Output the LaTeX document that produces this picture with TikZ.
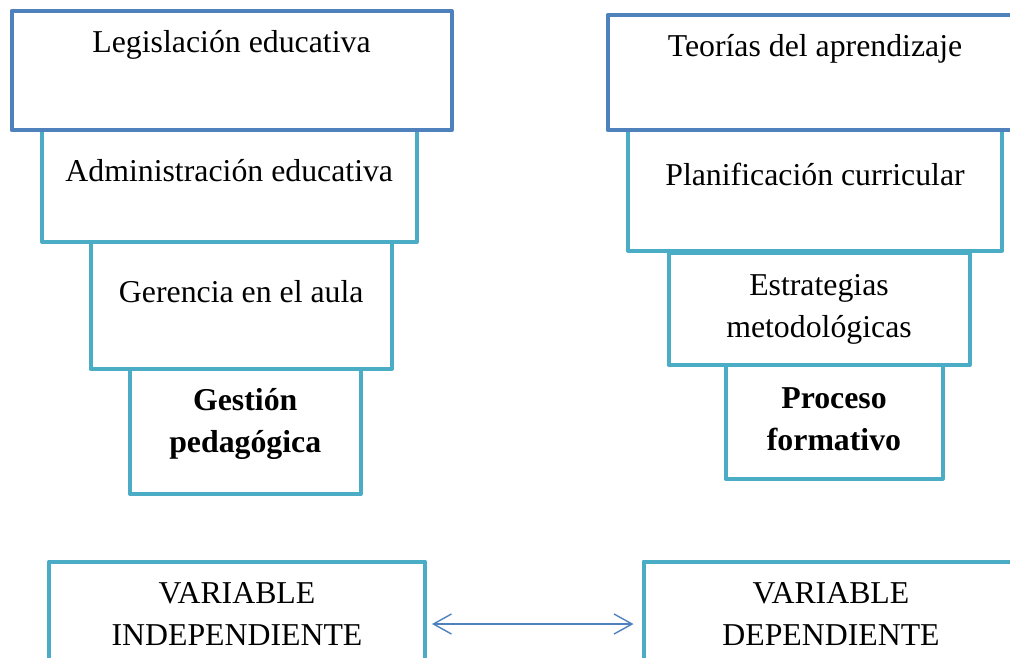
\documentclass[tikz,border=0pt]{standalone}
\usepackage{fontspec}
\setmainfont{Liberation Serif}
\usetikzlibrary{positioning,arrows.meta}
\definecolor{boxblue}{RGB}{79,129,189}
\definecolor{boxteal}{RGB}{75,172,198}

\begin{document}
\begin{tikzpicture}[x=1pt, y=-1pt]
    \tikzset{
        topbox/.style={rectangle, draw=boxblue, line width=4pt, fill=white, inner sep=0pt, outer sep=0pt, line join=round},
        stepbox/.style={rectangle, draw=boxteal, line width=4pt, fill=white, inner sep=0pt, outer sep=0pt, line join=round},
        boxtext/.style={anchor=base, inner sep=0pt, align=center, font=\fontsize{31.8}{42}\selectfont},
        link/.style={{Straight Barb[length=18pt,width=20pt]}-{Straight Barb[length=18pt,width=20pt]}, draw=boxblue, line width=1.4pt}
    }
    \clip (0,0) rectangle (1010,658);

    % left column, built from the bottom up
    \node[stepbox, minimum width=230.5pt, minimum height=125.5pt] (gest) at (245.25,431.25) {};
    \node[stepbox, minimum width=301.5pt, minimum height=126.5pt, above=0pt of gest, xshift=-4pt] (ger) {};
    \node[stepbox, minimum width=374.5pt, minimum height=112pt, above=0pt of ger, xshift=-12pt] (adm) {};
    \node[topbox, minimum width=440pt, minimum height=119pt, above=0pt of adm, xshift=2.25pt] (leg) {};

    % right column
    \node[stepbox, minimum width=217pt, minimum height=113.5pt] (proc) at (834,421.75) {};
    \node[stepbox, minimum width=301pt, minimum height=112.5pt, above=0pt of proc, xshift=-15pt] (estr) {};
    \node[stepbox, minimum width=374pt, minimum height=120.5pt, above=2pt of estr, xshift=-4pt] (plan) {};
    \node[topbox, minimum width=415pt, minimum height=115pt, above=0pt of plan] (teo) {};

    % variables
    \node[stepbox, minimum width=376pt, minimum height=125pt] (vind) at (237,624) {};
    \node[stepbox, minimum width=375pt, minimum height=125pt, right=218.5pt of vind] (vdep) {};

    % texts (two-line nodes sit on their last baseline)
    \node[boxtext] (legT) at ([yshift=-42pt]leg.north) {Legislación educativa};
    \node[boxtext] (admT) at ([yshift=-52pt]adm.north) {Administración educativa};
    \node[boxtext] (gerT) at ([yshift=-60pt]ger.north) {Gerencia en el aula};
    \node[boxtext, font=\fontsize{31.8}{42}\selectfont\bfseries] (gestT) at ([yshift=-83.5pt]gest.north) {Gestión\\pedagógica};

    \node[boxtext] (teoT) at ([yshift=-42pt]teo.north) {Teorías del aprendizaje};
    \node[boxtext] (planT) at ([yshift=-55.5pt]plan.north) {Planificación curricular};
    \node[boxtext] (estrT) at ([yshift=-84.5pt]estr.north) {Estrategias\\metodológicas};
    \node[boxtext, font=\fontsize{31.8}{42}\selectfont\bfseries] (procT) at ([yshift=-85pt]proc.north) {Proceso\\formativo};

    \node[boxtext] (vindT) at ([yshift=-83.5pt]vind.north) {VARIABLE\\INDEPENDIENTE};
    \node[boxtext] (vdepT) at ([yshift=-83.5pt]vdep.north) {VARIABLE\\DEPENDIENTE};

    \draw[link, shorten <=7pt, shorten >=10pt] (vind) -- (vdep);
\end{tikzpicture}
\end{document}
